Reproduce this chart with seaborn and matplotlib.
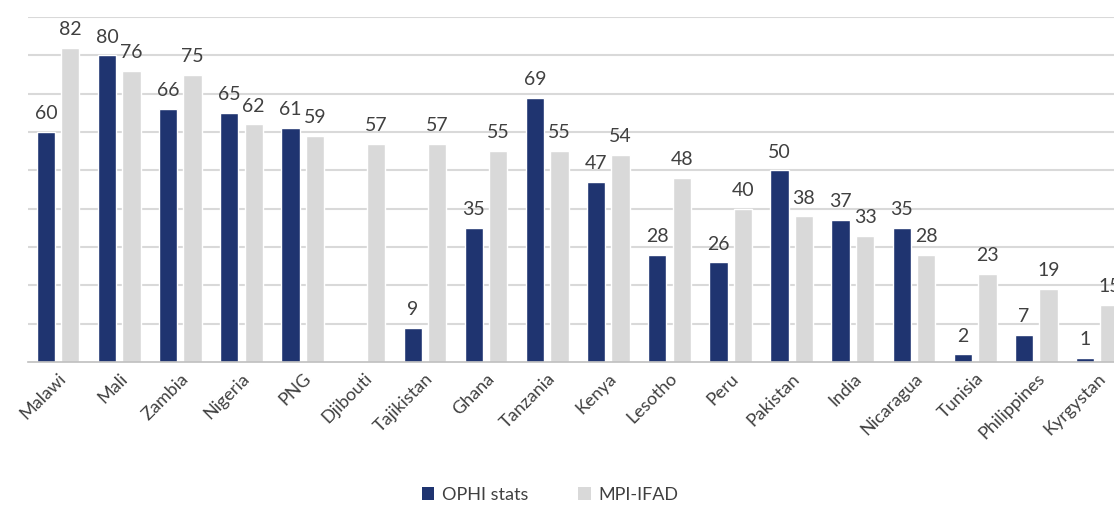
import numpy as np
import pandas as pd
import matplotlib
matplotlib.use("Agg")
import matplotlib.pyplot as plt
import seaborn as sns
from matplotlib.patches import Patch

countries = ["Malawi", "Mali", "Zambia", "Nigeria", "PNG", "Djibouti", "Tajikistan",
             "Ghana", "Tanzania", "Kenya", "Lesotho", "Peru", "Pakistan", "India",
             "Nicaragua", "Tunisia", "Philippines", "Kyrgystan"]
ophi = [60, 80, 66, 65, 61, np.nan, 9, 35, 69, 47, 28, 26, 50, 37, 35, 2, 7, 1]
mpi = [82, 76, 75, 62, 59, 57, 57, 55, 55, 54, 48, 40, 38, 33, 28, 23, 19, 15]
series = ["OPHI stats", "MPI-IFAD"]
colors = ["#1F3470", "#D9D9D9"]

df = pd.DataFrame({
    "country": countries * 2,
    "value": ophi + mpi,
    "series": [series[0]] * len(countries) + [series[1]] * len(countries),
})

sns.set_theme(style="white")
plt.rcParams["font.family"] = ["Lato", "DejaVu Sans"]

fig = plt.figure(figsize=(11.14, 5.07), dpi=100)
ax = fig.add_axes([27.5 / 1114, 1 - 362 / 507, (1128 - 27.5) / 1114, (362 - 17) / 507])

sns.barplot(data=df, x="country", y="value", hue="series", hue_order=series,
            palette=colors, width=0.8, gap=0.25, ax=ax, legend=False,
            saturation=1, errorbar=None)

ax.set_ylim(0, 90)
ax.set_xlim(-0.5, len(countries) - 0.5)
ax.set_yticks(np.arange(10, 91, 10))
ax.set_yticklabels([])
ax.tick_params(axis="y", length=0)
ax.yaxis.grid(True, color="#D9D9D9", linewidth=1.5)
ax.set_axisbelow(True)
for s in ["top", "right", "left"]:
    ax.spines[s].set_visible(False)
ax.spines["bottom"].set_color("#BFBFBF")
ax.spines["bottom"].set_linewidth(1.2)
ax.set_xlabel("")
ax.set_ylabel("")

for cont in ax.containers:
    for bar in cont:
        if bar is None:
            continue
        h = bar.get_height()
        if h is None or np.isnan(h):
            continue
        ax.annotate(f"{int(round(h))}", (bar.get_x() + bar.get_width() / 2, h),
                    xytext=(0, 7), textcoords="offset points", ha="center", va="bottom",
                    fontsize=14, color="#404040", annotation_clip=False)

ax.set_xticks(range(len(countries)))
ax.set_xticklabels(countries, rotation=45, ha="right", va="top", rotation_mode="anchor",
                   fontsize=13, color="#404040")
ax.tick_params(axis="x", length=0, pad=6)

handles = [Patch(facecolor=c, edgecolor="none") for c in colors]
fig.legend(handles, series, loc="center", bbox_to_anchor=(550 / 1114, 1 - 495 / 507),
           ncol=2, frameon=False, fontsize=13, handlelength=0.7, handleheight=0.7,
           columnspacing=2.8, handletextpad=0.4, labelcolor="#404040")

fig.savefig("out.png", dpi=100)
